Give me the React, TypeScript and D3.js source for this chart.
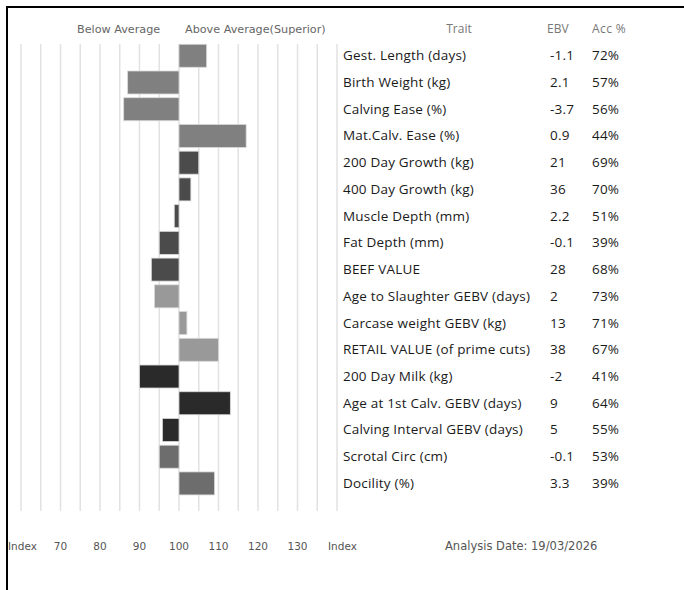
import React from "react";
import * as d3 from "d3";

const traits = [
  "Gest. Length (days)",
  "Birth Weight (kg)",
  "Calving Ease (%)",
  "Mat.Calv. Ease (%)",
  "200 Day Growth (kg)",
  "400 Day Growth (kg)",
  "Muscle Depth (mm)",
  "Fat Depth (mm)",
  "BEEF VALUE",
  "Age to Slaughter GEBV (days)",
  "Carcase weight GEBV (kg)",
  "RETAIL VALUE (of prime cuts)",
  "200 Day Milk (kg)",
  "Age at 1st Calv. GEBV (days)",
  "Calving Interval GEBV (days)",
  "Scrotal Circ (cm)",
  "Docility (%)",
];
const ebv = ["-1.1", "2.1", "-3.7", "0.9", "21", "36", "2.2", "-0.1", "28", "2", "13", "38", "-2", "9", "5", "-0.1", "3.3"];
const acc = ["72%", "57%", "56%", "44%", "69%", "70%", "51%", "39%", "68%", "73%", "71%", "67%", "41%", "64%", "55%", "53%", "39%"];
const indexValues = [107, 87, 86, 117, 105, 103, 98.8, 95, 93, 93.8, 102, 110, 90, 113, 95.8, 95, 109];
const groups = ["A", "A", "A", "A", "B", "B", "B", "B", "B", "C", "C", "C", "D", "D", "D", "E", "E"];
const tickLabels = [70, 80, 90, 100, 110, 120, 130];
const gridValues = d3.range(60, 141, 5);

const groupColors: Record<string, string> = {
  A: "#808080",
  B: "#4b4b4b",
  C: "#999999",
  D: "#2a2a2a",
  E: "#6d6d6d",
};

export default function App() {
  const W = 684;
  const H = 590;
  const x = d3.scaleLinear().domain([60, 140]).range([21, 337]);
  const y = d3.scaleBand<string>().domain(traits).range([42.4, 496.8]).paddingInner(0.14).paddingOuter(0.07);
  const lblFont = "'DejaVu Sans', Verdana, sans-serif";
  const traitFont = "'Open Sans', sans-serif";

  return (
    <svg width={W} height={H} style={{ position: "absolute", left: 0, top: 0 }}>
      <rect x={0} y={0} width={W} height={H} fill="#fff" />
      {/* frame */}
      <line x1={7} y1={7} x2={W} y2={7} stroke="#000" strokeWidth={2} />
      <line x1={7} y1={6} x2={7} y2={H} stroke="#000" strokeWidth={2} />

      {/* headers */}
      <text x={77} y={33} fontFamily={lblFont} fontSize={11.2} fill="#666">Below Average</text>
      <text x={185} y={33} fontFamily={lblFont} fontSize={11.2} fill="#666">Above Average(Superior)</text>
      <text x={459} y={33} textAnchor="middle" fontFamily={traitFont} fontSize={12} fill="#777">Trait</text>
      <text x={547} y={33} fontFamily={traitFont} fontSize={12} fill="#777">EBV</text>
      <text x={592} y={33} fontFamily={traitFont} fontSize={12} fill="#777" letterSpacing={0.4}>Acc %</text>

      {/* grid */}
      {gridValues.map((v) => (
        <line key={v} x1={x(v)} x2={x(v)} y1={44} y2={511} stroke="#e2e2e2" strokeWidth={1.5} />
      ))}

      {/* bars */}
      {traits.map((t, i) => {
        const v = indexValues[i];
        const x0 = x(Math.min(v, 100));
        const x1 = x(Math.max(v, 100));
        return (
          <rect
            key={t}
            x={x0}
            y={y(t)}
            width={x1 - x0}
            height={y.bandwidth()}
            fill={groupColors[groups[i]]}
            stroke="#d8d8d8"
            strokeWidth={0.8}
          />
        );
      })}

      {/* table */}
      {traits.map((t, i) => {
        const cy = (y(t) as number) + y.bandwidth() / 2 + 4.5;
        return (
          <g key={"r" + t} fontFamily={traitFont} fontSize={13.5} fill="#1a1a1a" letterSpacing={0.2}>
            <text x={343} y={cy}>{t}</text>
            <text x={550} y={cy}>{ebv[i]}</text>
            <text x={592} y={cy}>{acc[i]}</text>
          </g>
        );
      })}

      {/* bottom axis labels */}
      <text x={8} y={550} fontFamily={lblFont} fontSize={10.5} fill="#555">Index</text>
      {tickLabels.map((v) => (
        <text key={v} x={x(v)} y={550} textAnchor="middle" fontFamily={lblFont} fontSize={10.5} fill="#555">{v}</text>
      ))}
      <text x={328} y={550} fontFamily={lblFont} fontSize={10.5} fill="#555">Index</text>
      <text x={445} y={550} fontFamily={lblFont} fontSize={11.5} fill="#555">Analysis Date: 19/03/2026</text>
    </svg>
  );
}
